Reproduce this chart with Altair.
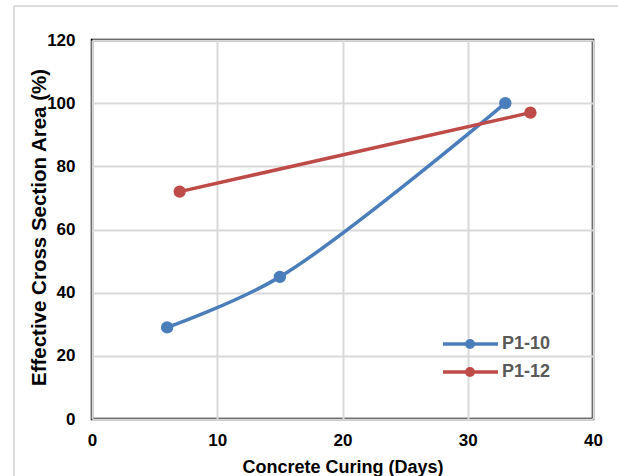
import altair as alt
import pandas as pd

series_names = ["P1-10", "P1-12"]
colors = ["#4a7ebb", "#be4b48"]

p110_x = [6, 15, 33]
p110_y = [29, 45, 100]
p112_x = [7, 35]
p112_y = [72, 97]

x_ticks = [0, 10, 20, 30, 40]
y_ticks = [0, 20, 40, 60, 80, 100, 120]

df = pd.DataFrame({
    "days": p110_x + p112_x,
    "area": p110_y + p112_y,
    "series": ["P1-10"] * len(p110_x) + ["P1-12"] * len(p112_x),
})
leg_df = pd.DataFrame({"series": series_names})

FONT = "Liberation Sans"
W, H = 501, 379

color_scale = alt.Scale(domain=series_names, range=colors)

xenc = alt.X("days:Q", scale=alt.Scale(domain=[0, 40], nice=False),
             axis=alt.Axis(values=x_ticks, title="Concrete Curing (Days)",
                           labelFontSize=17, labelFont=FONT, labelFontWeight="bold",
                           labelColor="#000000", labelPadding=13, ticks=False,
                           labelFlush=False,
                           titleFontSize=18, titleFont=FONT, titleFontWeight="bold",
                           titleColor="#000000", titleY=53, titleBaseline="alphabetic",
                           domain=False, gridColor="#d9d9d9", gridWidth=2))
yenc = alt.Y("area:Q", scale=alt.Scale(domain=[0, 120], nice=False),
             axis=alt.Axis(values=y_ticks, title="Effective Cross Section Area (%)",
                           labelFontSize=17, labelFont=FONT, labelFontWeight="bold",
                           labelColor="#000000", labelPadding=17, ticks=False,
                           labelFlush=False,
                           titleFontSize=20.5, titleFont=FONT, titleFontWeight="bold",
                           titleColor="#000000", titleX=-47, titleY=187,
                           titleBaseline="alphabetic",
                           domain=False, gridColor="#d9d9d9", gridWidth=2))

blue = alt.Chart(df[df.series == "P1-10"]).mark_line(
    interpolate="catmull-rom", strokeWidth=3.5).encode(
    x=xenc, y=yenc, color=alt.Color("series:N", scale=color_scale, legend=None))
red = alt.Chart(df[df.series == "P1-12"]).mark_line(strokeWidth=3.5).encode(
    x=xenc, y=yenc, color=alt.Color("series:N", scale=color_scale, legend=None))
pts = alt.Chart(df).mark_circle(size=154, opacity=1).encode(
    x=xenc, y=yenc, color=alt.Color("series:N", scale=color_scale, legend=None))

main = alt.layer(blue, red, pts)

leg_y = alt.Y("series:N", axis=None,
              scale=alt.Scale(type="point", domain=series_names, range=[304, 332], padding=0))
leg_rule = alt.Chart(leg_df).mark_rule(strokeWidth=3.5).encode(
    x=alt.value(351), x2=alt.value(406), y=leg_y,
    color=alt.Color("series:N", scale=color_scale, legend=None))
leg_pt = alt.Chart(leg_df).mark_circle(size=100, opacity=1).encode(
    x=alt.value(378), y=leg_y,
    color=alt.Color("series:N", scale=color_scale, legend=None))
leg_txt = alt.Chart(leg_df).mark_text(align="left", baseline="middle", font=FONT,
                                      fontSize=18, fontWeight="bold", color="#595959").encode(
    x=alt.value(410), y=leg_y, text="series:N")
legend = alt.layer(leg_rule, leg_pt, leg_txt)

border_l = alt.Chart(leg_df).mark_rule(color="#d9d9d9", strokeWidth=1.5).encode(
    x=alt.value(-78), y=alt.value(-34), y2=alt.value(440))
border_t = alt.Chart(leg_df).mark_rule(color="#d9d9d9", strokeWidth=1.5).encode(
    x=alt.value(-78), x2=alt.value(530), y=alt.value(-34))
borders = alt.layer(border_l, border_t)

chart = alt.layer(main, legend, borders).resolve_scale(y="independent").properties(
    width=W, height=H,
    autosize=alt.AutoSizeParams(type="none"),
    padding={"left": 92, "top": 40, "right": 25, "bottom": 57},
    background="#ffffff",
).configure_view(stroke="#000000", strokeWidth=2.5)

chart.save("out.html", embed_options={"renderer": "svg", "actions": False})
